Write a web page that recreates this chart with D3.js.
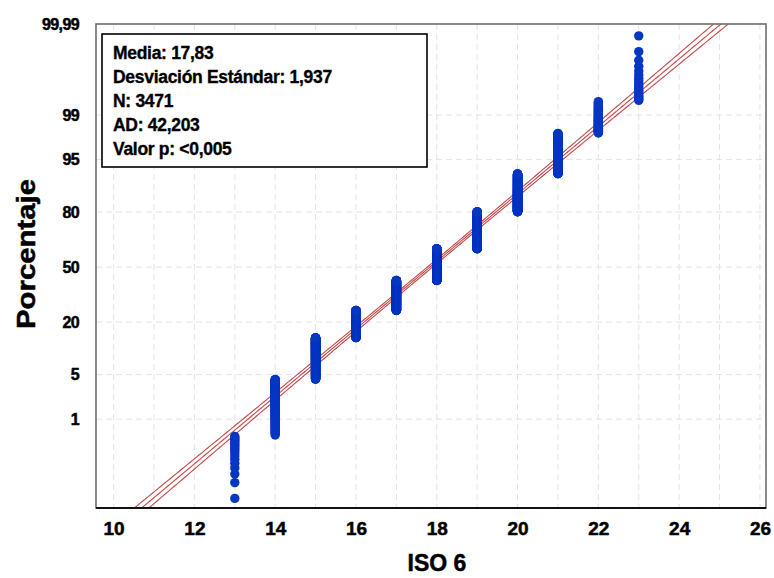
<!DOCTYPE html>
<html lang="es">
<head>
<meta charset="utf-8">
<title>Gráfica de probabilidad de ISO 6</title>
<script src="https://cdn.jsdelivr.net/npm/d3@7"></script>
<style>
  html, body { margin: 0; padding: 0; background: #ffffff; }
  svg { display: block; font-family: "Liberation Sans", Arial, sans-serif; }
</style>
</head>
<body>
<svg id="chart" width="774" height="578"></svg>
<script>
// ISO 6 values observed and how many samples took each value
const isoValues = [13, 14, 15, 16, 17, 18, 19, 20, 21, 22, 23];
const isoCounts = [17, 132, 337, 394, 574, 665, 662, 424, 196, 51, 19];

// Summary statistics of the normal fit
const media = 17.83;
const desviacion = 1.937;
const nTotal = 3471;
const adValue = 42.203;
const pValueText = "<0,005";

// Axis ticks
const xTicks = [10, 12, 14, 16, 18, 20, 22, 24, 26];
const xGrid = d3.range(10, 27, 1);
const yTickPct = [1, 5, 20, 50, 80, 95, 99, 99.99];
const yTickLabels = ["1", "5", "20", "50", "80", "95", "99", "99,99"];

// Inverse of the standard normal CDF (Acklam's rational approximation)
function qnorm(p) {
  const a = [-3.969683028665376e+01, 2.209460984245205e+02, -2.759285104469687e+02,
             1.383577518672690e+02, -3.066479806614716e+01, 2.506628277459239e+00];
  const b = [-5.447609879822406e+01, 1.615858368580409e+02, -1.556989798598866e+02,
             6.680131188771972e+01, -1.328068155288572e+01];
  const c = [-7.784894002430293e-03, -3.223964580411365e-01, -2.400758277161838e+00,
             -2.549671010115514e+00, 4.374664141464968e+00, 2.938163982698783e+00];
  const d = [7.784695709041462e-03, 3.224671290700398e-01, 2.445134137142996e+00,
             3.754408661907416e+00];
  const pl = 0.02425;
  if (p < pl) {
    const q = Math.sqrt(-2 * Math.log(p));
    return (((((c[0]*q + c[1])*q + c[2])*q + c[3])*q + c[4])*q + c[5]) /
           ((((d[0]*q + d[1])*q + d[2])*q + d[3])*q + 1);
  }
  if (p > 1 - pl) {
    const q = Math.sqrt(-2 * Math.log(1 - p));
    return -(((((c[0]*q + c[1])*q + c[2])*q + c[3])*q + c[4])*q + c[5]) /
            ((((d[0]*q + d[1])*q + d[2])*q + d[3])*q + 1);
  }
  const q = p - 0.5, r = q * q;
  return (((((a[0]*r + a[1])*r + a[2])*r + a[3])*r + a[4])*r + a[5])*q /
         (((((b[0]*r + b[1])*r + b[2])*r + b[3])*r + b[4])*r + 1);
}

const svg = d3.select("#chart");
const plot = { left: 96, right: 766, top: 24, bottom: 508 };

// x: ISO 6 value; y: normal score of the cumulative percentage
const x = d3.scaleLinear().domain([9.564, 26.15]).range([plot.left, plot.right]);
const y = d3.scaleLinear().domain([-3.685, qnorm(0.9999)]).range([plot.bottom, plot.top]);
const yPct = pct => y(qnorm(pct / 100));

// Gridlines
const grid = svg.append("g")
  .attr("stroke", "#e4e4e4").attr("stroke-width", 1).attr("stroke-dasharray", "6,4");
grid.selectAll("line.v").data(xGrid).join("line")
  .attr("class", "v")
  .attr("x1", d => x(d)).attr("x2", d => x(d))
  .attr("y1", plot.top).attr("y2", plot.bottom);
grid.selectAll("line.h").data(yTickPct.filter(p => p < 99.99)).join("line")
  .attr("class", "h")
  .attr("x1", plot.left).attr("x2", plot.right)
  .attr("y1", d => yPct(d)).attr("y2", d => yPct(d));

// Fitted normal line with 95% confidence bounds for the percentiles
const zs = d3.range(y.domain()[0], y.domain()[1] + 1e-9, (y.domain()[1] - y.domain()[0]) / 200);
const seFactor = z => 1.96 * desviacion * Math.sqrt(1 / nTotal + z * z / (2 * nTotal));
const fitLines = [
  zs.map(z => [media + z * desviacion - seFactor(z), z]),
  zs.map(z => [media + z * desviacion, z]),
  zs.map(z => [media + z * desviacion + seFactor(z), z])
];
svg.append("defs").append("clipPath").attr("id", "plotClip")
  .append("rect")
  .attr("x", plot.left).attr("y", plot.top)
  .attr("width", plot.right - plot.left).attr("height", plot.bottom - plot.top);
const line = d3.line().x(d => x(d[0])).y(d => y(d[1]));
svg.append("g").attr("clip-path", "url(#plotClip)")
  .selectAll("path").data(fitLines).join("path")
  .attr("d", line)
  .attr("fill", "none")
  .attr("stroke", "#c4484a")
  .attr("stroke-width", 1.1);

// One point per observation at its median-rank plotting position
const points = [];
let rank = 0;
isoValues.forEach((v, k) => {
  for (let j = 0; j < isoCounts[k]; j++) {
    rank += 1;
    points.push({ value: v, z: qnorm((rank - 0.3) / (nTotal + 0.4)) });
  }
});
svg.append("g").attr("fill", "#0637c2")
  .selectAll("circle").data(points).join("circle")
  .attr("cx", d => x(d.value))
  .attr("cy", d => y(d.z))
  .attr("r", 4.7);

// Plot frame
svg.append("rect")
  .attr("x", plot.left).attr("y", plot.top)
  .attr("width", plot.right - plot.left).attr("height", plot.bottom - plot.top)
  .attr("fill", "none").attr("stroke", "#6e6e6e").attr("stroke-width", 1.6);
svg.append("line")
  .attr("x1", plot.left).attr("x2", plot.right)
  .attr("y1", plot.bottom).attr("y2", plot.bottom)
  .attr("stroke", "#111").attr("stroke-width", 1.8);

// Heavy label style shared by the axis texts
const heavy = sel => sel
  .attr("font-family", "Liberation Sans, Arial, sans-serif")
  .attr("font-weight", "bold").attr("fill", "#000")
  .attr("stroke", "#000").attr("stroke-width", 0.5);

// Axis labels
const xAxis = d3.axisBottom(x).tickValues(xTicks).tickSize(0).tickPadding(14)
  .tickFormat(d3.format("d"));
const gx = svg.append("g").attr("transform", `translate(0,${plot.bottom})`).call(xAxis);
gx.select(".domain").remove();
gx.selectAll("text").call(heavy).attr("font-size", 19);

const yAxis = d3.axisLeft(y).tickValues(yTickPct.map(p => qnorm(p / 100)))
  .tickSize(0).tickPadding(17)
  .tickFormat((d, i) => yTickLabels[i]);
const gy = svg.append("g").attr("transform", `translate(${plot.left},0)`).call(yAxis);
gy.select(".domain").remove();
gy.selectAll("text").call(heavy).attr("font-size", 16).attr("letter-spacing", "-0.6");

// Axis titles
svg.append("text")
  .attr("x", 437).attr("y", 571)
  .attr("text-anchor", "middle")
  .attr("font-size", 23)
  .call(heavy)
  .text("ISO 6");
svg.append("text")
  .attr("transform", "translate(35,254) rotate(-90)")
  .attr("text-anchor", "middle")
  .attr("font-size", 25)
  .call(heavy)
  .attr("textLength", 150).attr("lengthAdjust", "spacingAndGlyphs")
  .text("Porcentaje");

// Statistics box
const fmt = v => String(v).replace(".", ",");
const statLines = [
  `Media: ${fmt(media)}`,
  `Desviación Estándar: ${fmt(desviacion)}`,
  `N: ${nTotal}`,
  `AD: ${fmt(adValue)}`,
  `Valor p: ${pValueText}`
];
svg.append("rect")
  .attr("x", 102).attr("y", 34).attr("width", 325).attr("height", 133)
  .attr("fill", "#fff").attr("stroke", "#000").attr("stroke-width", 1.6);
svg.append("g").selectAll("text").data(statLines).join("text")
  .attr("x", 113).attr("y", (d, i) => 59 + i * 24)
  .attr("font-size", 17.5)
  .call(heavy)
  .attr("stroke-width", 0.35)
  .attr("letter-spacing", "-0.3")
  .text(d => d);
</script>
</body>
</html>
